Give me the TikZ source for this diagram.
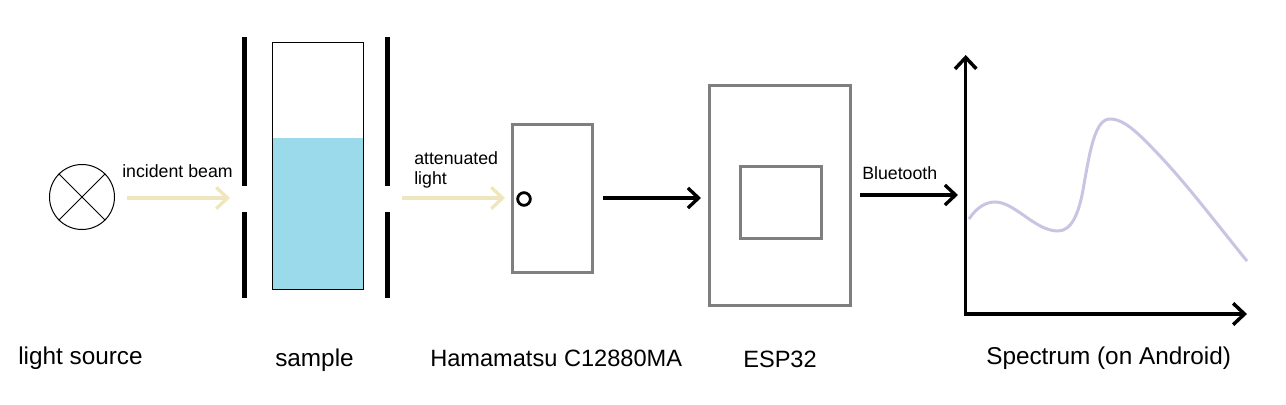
\documentclass[tikz,border=0pt]{standalone}
\usepackage{fontspec}
\setmainfont{Liberation Sans}
\usetikzlibrary{arrows.meta}
\definecolor{beamcol}{HTML}{EFE6BE}
\definecolor{boxgray}{HTML}{7F7F7F}
\definecolor{liquid}{HTML}{9BDAEA}
\definecolor{curvecol}{HTML}{C8C4E2}
\tikzset{
  x=0.75pt,y=-0.75pt,
  bigtext/.style={font=\fontsize{17.7pt}{20pt}\selectfont,inner sep=0pt,anchor=base west},
  widetext/.style={font=\fontsize{18.25pt}{20pt}\selectfont,inner sep=0pt,anchor=base west},
  smalltext/.style={font=\fontsize{13.3pt}{15pt}\selectfont,inner sep=0pt,anchor=base west,align=left},
  beam/.style={line width=2.5pt,beamcol,-{Straight Barb[length=8.5pt,width=16pt,line width=2.5pt]}},
  blackarrow/.style={line width=2.5pt,black,-{Straight Barb[length=8pt,width=15pt,line width=2.5pt]}},
  axis/.style={line width=2.6pt,black,{Straight Barb[length=8.5pt,width=16pt,line width=2.6pt]}-{Straight Barb[length=8.5pt,width=16pt,line width=2.6pt]}},
  graybox/.style={draw=boxgray,line width=2.25pt,fill=none,inner sep=0pt,anchor=north west},
  slit/.style={line width=3.75pt,black}
}
\begin{document}
\begin{tikzpicture}
\useasboundingbox (0,0) rectangle (1286,404);
% lamp
\node[circle,draw=black,line width=0.75pt,minimum size=48.75pt,inner sep=0pt] (lamp) at (82,197) {};
\draw[line width=0.75pt] (lamp.north west) -- (lamp.south east);
\draw[line width=0.75pt] (lamp.north east) -- (lamp.south west);
% sample
\fill[liquid] (272,138) rectangle (364,290);
\node[draw=black,line width=0.75pt,minimum width=68pt,minimum height=185pt,inner sep=0pt,anchor=north west] (sample) at (272,42) {};
% slits
\coordinate (s1a) at (244.5,37); \coordinate (s1b) at (244.5,186);
\coordinate (s1c) at (244.5,212); \coordinate (s1d) at (244.5,298);
\coordinate (s2a) at (387.5,37); \coordinate (s2b) at (387.5,186);
\coordinate (s2c) at (387.5,212); \coordinate (s2d) at (387.5,298);
\draw[slit] (s1a) -- (s1b); \draw[slit] (s1c) -- (s1d);
\draw[slit] (s2a) -- (s2b); \draw[slit] (s2c) -- (s2d);
% boxes
\node[graybox,minimum width=60.5pt,minimum height=111pt] (sensor) at (510.8,123) {};
\node[graybox,minimum width=106pt,minimum height=165pt] (esp) at (707.8,84) {};
\node[graybox,minimum width=60.5pt,minimum height=54pt] (chip) at (739,165) {};
\node[circle,draw=black,line width=2.1pt,minimum size=9.5pt,inner sep=0pt] (slitdot) at (524,199) {};
% arrows
\coordinate (b1s) at (127,198); \coordinate (b1e) at (230,198);
\coordinate (b2s) at (402,198); \coordinate (b2e) at (505,198);
\draw[beam] (b1s) -- (b1e);
\draw[beam] (b2s) -- (b2e);
\coordinate (a1s) at (603,198); \coordinate (a1e) at (701,198);
\draw[blackarrow] (a1s) -- (a1e);
\coordinate (a2s) at (860,195); \coordinate (a2e) at (958,195);
\draw[blackarrow] (a2s) -- (a2e);
% axes
\coordinate (origin) at (965.7,314); \coordinate (ytop) at (965.7,55); \coordinate (xend) at (1247,314);
\draw[axis] (ytop) -- (origin) -- (xend);
% curve
\draw[curvecol,line width=2.25pt] (969,219) .. controls (977,207) and (986,202) .. (995,202)
  .. controls (1015,202) and (1035,231) .. (1058,231)
  .. controls (1072,231) and (1079,212) .. (1083,190)
  .. controls (1090,150) and (1095,119) .. (1110,119)
  .. controls (1125,119) and (1140,135) .. (1160,156)
  .. controls (1190,188) and (1220,228) .. (1247,261);
% texts
\node[widetext] (t1) at (18,364) {light source};
\node[widetext] (t2) at (275,366) {sample};
\node[bigtext] (t3) at (430,366) {Hamamatsu C12880MA};
\node[bigtext] (t4) at (743,367) {ESP32};
\node[widetext] (t5) at (986,364) {Spectrum (on Android)};
\node[smalltext] (t6) at (122,177) {incident beam};
\node[smalltext] (t7) at (414,184) {attenuated\\light};
\node[smalltext] (t8) at (862,179) {Bluetooth};
\end{tikzpicture}
\end{document}
